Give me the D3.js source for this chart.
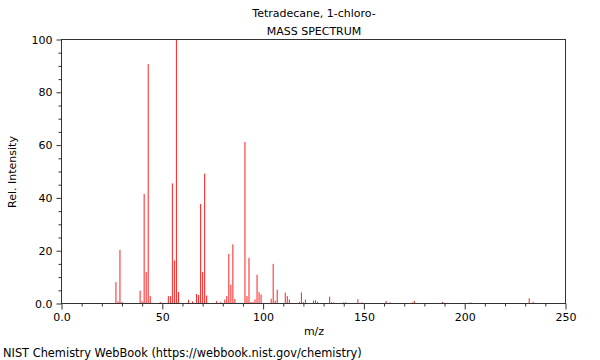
<!DOCTYPE html>
<html>
<head>
<meta charset="utf-8">
<script src="https://cdn.jsdelivr.net/npm/d3@7"></script>
<style>
  html, body { margin: 0; padding: 0; background: #fff; }
  svg { display: block; font-family: "DejaVu Sans", sans-serif; }
</style>
</head>
<body>
<svg id="chart" width="600" height="360"></svg>
<script>
// Data
const titleLines = ["Tetradecane, 1-chloro-", "MASS SPECTRUM"];
const mz = [27, 28, 29, 30, 39, 40, 41, 42, 43, 44, 49, 53, 54, 55, 56, 57, 58,
  63, 65, 67, 68, 69, 70, 71, 72, 77, 79, 81, 82, 83, 84, 85, 86,
  91, 92, 93, 94, 95, 96, 97, 98, 99, 104, 105, 106, 107, 111, 112, 113,
  118, 119, 120, 121, 125, 126, 127, 133, 134, 135, 140, 141, 147, 149,
  161, 163, 174, 175, 189, 203, 232, 234];
const intensity = [8.1, 0.8, 20.3, 0.6, 4.9, 0.8, 41.5, 11.9, 90.7, 2.8, 0.6, 2.8, 2.8, 45.5, 16.3, 100, 4.4,
  1.4, 0.8, 3.6, 3.2, 37.7, 11.9, 49.2, 3.0, 1.0, 0.6, 1.5, 2.8, 18.8, 7.1, 22.4, 1.7,
  61.2, 2.8, 17.3, 0.6, 0.6, 1.5, 10.9, 4.3, 3.4, 1.8, 15.0, 1.1, 5.2, 4.1, 2.8, 1.5,
  0.6, 4.2, 0.5, 1.5, 1.1, 1.2, 0.6, 2.6, 0.5, 0.4, 0.4, 0.5, 1.6, 0.4,
  1.0, 0.4, 0.4, 1.0, 0.6, 0.4, 2.0, 0.6];
const xTicks = [0, 50, 100, 150, 200, 250];
const xTickLabels = ["0.0", "50", "100", "150", "200", "250"];
const yTicks = [0, 20, 40, 60, 80, 100];
const yTickLabels = ["0.0", "20", "40", "60", "80", "100"];
const xMinorTicks = d3.range(0, 251, 10).filter(v => v % 50 !== 0);
const yMinorTicks = d3.range(0, 101, 5).filter(v => v % 20 !== 0);
const xLabel = "m/z";
const yLabel = "Rel. Intensity";
const footer = "NIST Chemistry WebBook (https://webbook.nist.gov/chemistry)";

const svg = d3.select("#chart");
const pLeft = 61.5, pRight = 565.5, pTop = 39.5, pBottom = 303.5;
const x = d3.scaleLinear().domain([0, 250]).range([pLeft, pRight]);
const y = d3.scaleLinear().domain([0, 100]).range([pBottom, pTop]);
const axisColor = "#333";

// peaks
svg.append("g").selectAll("line").data(mz).join("line")
  .attr("x1", d => x(d)).attr("x2", d => x(d))
  .attr("y1", y(0))
  .attr("y2", (d, i) => y(intensity[i]))
  .attr("stroke", "#ff2020").attr("stroke-width", 1);

// frame
svg.append("rect").attr("x", pLeft).attr("y", pTop)
  .attr("width", pRight - pLeft).attr("height", pBottom - pTop)
  .attr("fill", "none").attr("stroke", axisColor).attr("stroke-width", 1);

// x axis
const xAxis = d3.axisBottom(x).tickValues(xTicks)
  .tickFormat((d, i) => xTickLabels[i]).tickSize(6).tickPadding(4);
const gx = svg.append("g").attr("transform", `translate(0,${pBottom})`).call(xAxis);
const xMinor = d3.axisBottom(x).tickValues(xMinorTicks).tickFormat("").tickSize(3);
const gxm = svg.append("g").attr("transform", `translate(0,${pBottom})`).call(xMinor);

// y axis
const yAxis = d3.axisLeft(y).tickValues(yTicks)
  .tickFormat((d, i) => yTickLabels[i]).tickSize(5).tickPadding(4);
const gy = svg.append("g").attr("transform", `translate(${pLeft},0)`).call(yAxis);
const yMinor = d3.axisLeft(y).tickValues(yMinorTicks).tickFormat("").tickSize(3);
const gym = svg.append("g").attr("transform", `translate(${pLeft},0)`).call(yMinor);

[gx, gxm, gy, gym].forEach(g => {
  g.select(".domain").remove();
  g.selectAll(".tick line").attr("stroke", axisColor);
  g.selectAll(".tick text").attr("fill", "#000")
    .style("font-family", "DejaVu Sans, sans-serif").style("font-size", "11px");
});

// titles
svg.append("text").attr("x", 314).attr("y", 17).attr("text-anchor", "middle")
  .style("font-size", "11px").attr("fill", "#000").text(titleLines[0]);
svg.append("text").attr("x", 314).attr("y", 35).attr("text-anchor", "middle")
  .style("font-size", "11px").attr("fill", "#000").text(titleLines[1]);

// axis labels
svg.append("text").attr("x", 314).attr("y", 335).attr("text-anchor", "middle")
  .style("font-size", "11px").attr("fill", "#000").text(xLabel);
svg.append("text").attr("transform", "translate(16,172) rotate(-90)")
  .attr("text-anchor", "middle")
  .style("font-size", "11px").attr("fill", "#000").text(yLabel);

// footer
svg.append("text").attr("x", 3).attr("y", 357)
  .style("font-size", "11.4px").attr("fill", "#000").text(footer);
</script>
</body>
</html>
